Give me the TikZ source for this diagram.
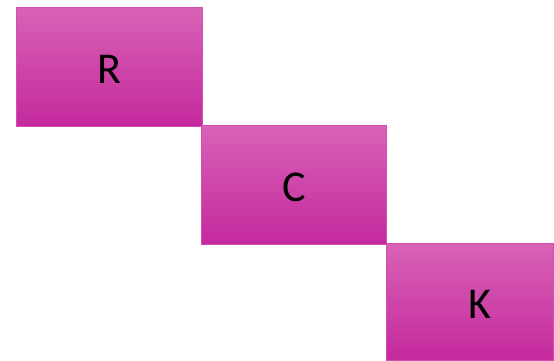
\documentclass[tikz,border=0pt]{standalone}
\usepackage{fontspec}
\setmainfont{Carlito}
\definecolor{gtop}{HTML}{D862B6}
\definecolor{gmid}{HTML}{D536AE}
\definecolor{gbot}{HTML}{C4299D}
\definecolor{gedge}{HTML}{D24FB2}
\begin{document}
\begin{tikzpicture}[x=1pt,y=-1pt,
  boxstyle/.style={draw=gedge,line width=0.8pt,top color=gtop,middle color=gmid,bottom color=gbot,
    rectangle,inner sep=0pt,anchor=north west,font=\fontsize{44}{44}\selectfont,text=black}]
\useasboundingbox (0,0) rectangle (554,361);
\node[boxstyle,minimum width=186pt,minimum height=119pt] (r) at (16,7) {};
\node at ([yshift=-2pt]r.center) {\fontsize{44}{44}\selectfont R};
\node[boxstyle,minimum width=185pt,minimum height=119pt] (c) at (201,125) {};
\node at ([yshift=-2pt]c.center) {\fontsize{44}{44}\selectfont C};
\node[boxstyle,minimum width=167pt,minimum height=117pt] (k) at (386,243) {};
\node at ([xshift=10pt,yshift=-2pt]k.center) {\fontsize{44}{44}\selectfont K};
\end{tikzpicture}
\end{document}
